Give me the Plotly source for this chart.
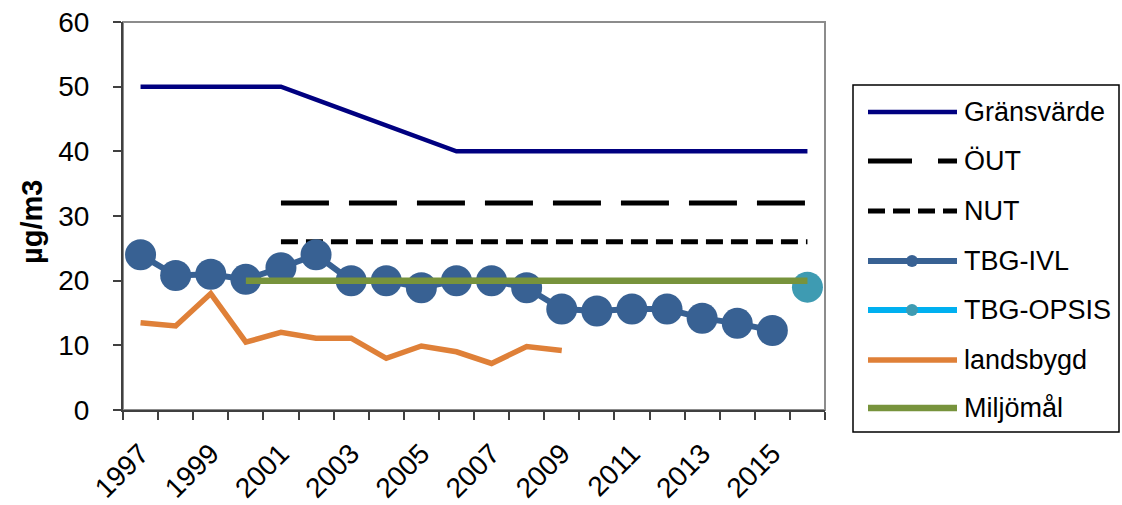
import plotly.graph_objects as go

# ---------- data ----------
years = list(range(1997, 2017))

grans_years = list(range(1997, 2017))
grans_vals = [50, 50, 50, 50, 50, 48, 46, 44, 42, 40,
              40, 40, 40, 40, 40, 40, 40, 40, 40, 40]

out_years = list(range(2001, 2017))
out_vals = [32] * len(out_years)

nut_years = list(range(2001, 2017))
nut_vals = [26] * len(nut_years)

ivl_years = list(range(1997, 2016))
ivl_vals = [24.0, 20.8, 21.0, 20.2, 22.0, 24.0, 20.0, 20.0, 18.9, 20.0,
            20.0, 18.9, 15.6, 15.3, 15.6, 15.6, 14.2, 13.4, 12.3]

opsis_years = [2016]
opsis_vals = [19.0]

lands_years = list(range(1997, 2010))
lands_vals = [13.5, 13.0, 18.0, 10.5, 12.0, 11.1, 11.1, 8.0, 9.9, 9.0,
              7.2, 9.8, 9.2]

miljo_years = list(range(2000, 2017))
miljo_vals = [20] * len(miljo_years)

tick_years = list(range(1997, 2016, 2))
tick_labels = [str(y) for y in tick_years]

legend_names = ["Gränsvärde", "ÖUT", "NUT", "TBG-IVL", "TBG-OPSIS",
                "landsbygd", "Miljömål"]

# ---------- styling ----------
NAVY = "#000080"
IVL = "#386193"
OPSIS_MK = "#3E9BB2"
OPSIS_LN = "#00B0F0"
ORANGE = "#DF8038"
GREEN = "#77933C"
AXIS = "#404040"
BORDER = "#8C8C8C"
FONT = "Liberation Sans, Arial, sans-serif"

fig = go.Figure()

fig.add_trace(go.Scatter(x=grans_years, y=grans_vals, mode="lines",
                         line=dict(color=NAVY, width=4.5), name="Gränsvärde"))
fig.add_trace(go.Scatter(x=out_years, y=out_vals, mode="lines",
                         line=dict(color="black", width=5, dash="48px,20px"),
                         name="ÖUT"))
fig.add_trace(go.Scatter(x=nut_years, y=nut_vals, mode="lines",
                         line=dict(color="black", width=5, dash="17px,8px"),
                         name="NUT"))
fig.add_trace(go.Scatter(x=ivl_years, y=ivl_vals, mode="lines+markers",
                         line=dict(color=IVL, width=6),
                         marker=dict(color=IVL, size=31),
                         name="TBG-IVL"))
fig.add_trace(go.Scatter(x=opsis_years, y=opsis_vals, mode="markers",
                         marker=dict(color=OPSIS_MK, size=31),
                         name="TBG-OPSIS"))
fig.add_trace(go.Scatter(x=lands_years, y=lands_vals, mode="lines",
                         line=dict(color=ORANGE, width=5.5), name="landsbygd"))
fig.add_trace(go.Scatter(x=miljo_years, y=miljo_vals, mode="lines",
                         line=dict(color=GREEN, width=6.5), name="Miljömål"))

# plot frame (gray top/right border), drawn under the axis lines
fig.add_shape(type="rect", xref="paper", yref="paper", x0=0, x1=1, y0=0, y1=1,
              line=dict(color=BORDER, width=2), layer="below")

# hand-built legend box to get Excel-length sample lines
W, H = 1122, 505
ml, mr, mt, mb = 123, W - 825, 22, H - 410
pw, ph = W - ml - mr, H - mt - mb


def px(xp):
    return (xp - ml) / pw


def py(yp):
    return (H - mb - yp) / ph


fig.add_shape(type="rect", xref="paper", yref="paper",
              x0=px(853), x1=px(1119), y0=py(85), y1=py(432),
              line=dict(color="black", width=1.5), fillcolor="white")

row_y = [112, 161, 211, 261, 310, 360, 408]
sample_styles = [
    dict(color=NAVY, width=4.5),
    None,
    dict(color="black", width=5, dash="17px,8px"),
    dict(color=IVL, width=6),
    dict(color=OPSIS_LN, width=6),
    dict(color=ORANGE, width=5.5),
    dict(color=GREEN, width=6.5),
]
for name, yy, st in zip(legend_names, row_y, sample_styles):
    if st is None:
        fig.add_shape(type="line", xref="paper", yref="paper",
                      x0=px(868), x1=px(912), y0=py(yy), y1=py(yy),
                      line=dict(color="black", width=5))
        fig.add_shape(type="line", xref="paper", yref="paper",
                      x0=px(938), x1=px(957), y0=py(yy), y1=py(yy),
                      line=dict(color="black", width=5))
    else:
        fig.add_shape(type="line", xref="paper", yref="paper",
                      x0=px(868), x1=px(957), y0=py(yy), y1=py(yy), line=st)
    fig.add_annotation(x=px(962), y=py(yy), xref="paper", yref="paper",
                       text=name, showarrow=False, xanchor="left",
                       yanchor="middle",
                       font=dict(family=FONT, size=27, color="black"))
for yy, col in [(261, IVL), (310, OPSIS_MK)]:
    fig.add_shape(type="circle", xref="paper", yref="paper",
                  x0=px(906), x1=px(918), y0=py(yy - 6), y1=py(yy + 6),
                  line=dict(width=0), fillcolor=col)

# y-axis title placed where Excel put it
fig.add_annotation(x=px(32), y=py(222), xref="paper", yref="paper",
                   text="<b>µg/m3</b>", textangle=-90, showarrow=False,
                   xanchor="center", yanchor="middle",
                   font=dict(family=FONT, size=29, color="black"))

fig.update_layout(
    width=W, height=H,
    margin=dict(l=ml, r=mr, t=mt, b=mb, autoexpand=False),
    paper_bgcolor="white", plot_bgcolor="white",
    showlegend=False,
    font=dict(family=FONT, size=28, color="black"),
)
fig.update_xaxes(
    range=[1996.5, 2016.5], automargin=False,
    tickmode="array", tickvals=tick_years, ticktext=tick_labels,
    tickangle=-45, ticks="outside", ticklen=0,
    tickfont=dict(size=28), ticklabelstandoff=14,
    showline=True, linecolor=AXIS, linewidth=2,
    showgrid=False, zeroline=False,
    minor=dict(ticks="outside", ticklen=8, tickcolor=AXIS, tickwidth=2,
               tick0=1996.5, dtick=1, showgrid=False),
)
fig.update_yaxes(
    range=[0, 60], dtick=10, automargin=False,
    ticks="outside", ticklen=8, tickwidth=2, tickcolor=AXIS,
    tickfont=dict(size=28), ticklabelstandoff=18,
    showline=True, linecolor=AXIS, linewidth=2,
    showgrid=False, zeroline=False,
)

# the page's default 8px body margin would push the figure off-window
fig.write_html("out.html", config={"displayModeBar": False},
               post_script="document.body.style.margin='0';")
